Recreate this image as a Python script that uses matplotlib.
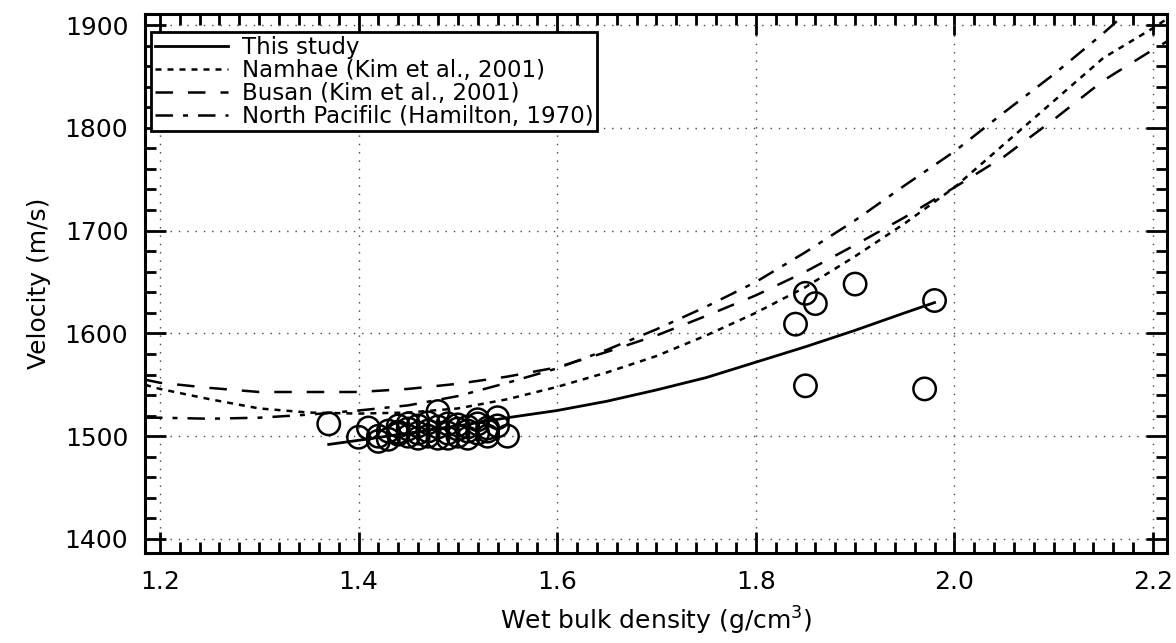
import matplotlib.pyplot as plt
from matplotlib.ticker import MultipleLocator

# regression curves (density g/cm3, velocity m/s)
this_x = [1.37, 1.40, 1.45, 1.50, 1.55, 1.60, 1.65, 1.70, 1.75, 1.80, 1.85, 1.90, 1.95, 1.98]
this_y = [1492, 1496, 1503, 1510, 1518, 1525, 1534, 1545, 1557, 1572, 1587, 1603, 1620, 1630]

namhae_x = [1.185, 1.20, 1.25, 1.30, 1.35, 1.40, 1.45, 1.50, 1.55, 1.60, 1.65, 1.70, 1.75, 1.80,
            1.85, 1.90, 1.95, 2.00, 2.05, 2.10, 2.15, 2.20, 2.214]
namhae_y = [1550, 1546, 1536, 1527, 1523, 1522, 1523, 1527, 1536, 1548, 1562, 1578, 1598, 1620,
            1645, 1675, 1707, 1742, 1784, 1826, 1868, 1897, 1906]

busan_x = [1.185, 1.20, 1.25, 1.30, 1.35, 1.40, 1.45, 1.50, 1.55, 1.60, 1.65, 1.70, 1.75, 1.80,
           1.85, 1.90, 1.95, 2.00, 2.05, 2.10, 2.15, 2.20, 2.214]
busan_y = [1555, 1552, 1547, 1543, 1543, 1543, 1546, 1551, 1558, 1567, 1582, 1598, 1617, 1637,
           1660, 1686, 1713, 1742, 1772, 1808, 1846, 1876, 1884]

pacific_x = [1.185, 1.20, 1.25, 1.30, 1.35, 1.40, 1.45, 1.50, 1.55, 1.60, 1.65, 1.70, 1.75, 1.80,
             1.85, 1.90, 1.95, 2.00, 2.05, 2.10, 2.15, 2.172]
pacific_y = [1518, 1518, 1517, 1518, 1521, 1525, 1530, 1539, 1552, 1566, 1584, 1604, 1626, 1650,
             1679, 1710, 1744, 1777, 1815, 1852, 1892, 1911]

# measured samples
dens = [1.37, 1.40, 1.41, 1.42, 1.42, 1.43, 1.43, 1.44, 1.44, 1.44, 1.45, 1.45, 1.45, 1.46, 1.46,
        1.46, 1.47, 1.47, 1.47, 1.48, 1.48, 1.48, 1.49, 1.49, 1.49, 1.50, 1.50, 1.50, 1.51, 1.51,
        1.51, 1.52, 1.52, 1.52, 1.53, 1.53, 1.53, 1.54, 1.54, 1.55,
        1.84, 1.85, 1.86, 1.90, 1.85, 1.97, 1.98]
vel = [1512, 1499, 1508, 1495, 1500, 1497, 1505, 1510, 1502, 1504, 1500, 1507, 1512, 1503, 1498,
       1510, 1505, 1500, 1513, 1524, 1509, 1498, 1503, 1512, 1498, 1507, 1500, 1511, 1505, 1498,
       1509, 1512, 1516, 1503, 1500, 1508, 1505, 1518, 1510, 1500,
       1609, 1639, 1629, 1648, 1549, 1546, 1632]

plt.rcParams['font.family'] = ['DejaVu Sans']
fig = plt.figure(figsize=(11.76, 6.43), dpi=100)
ax = fig.add_axes([0.1233, 0.14, 0.8690, 0.8382])

ax.plot(this_x, this_y, color='black', lw=2.0, label='This study')
ax.plot(namhae_x, namhae_y, color='black', lw=1.8, dashes=(2.4, 2.4), label='Namhae (Kim et al., 2001)')
ax.plot(busan_x, busan_y, color='black', lw=1.8, dashes=(7, 6), label='Busan (Kim et al., 2001)')
ax.plot(pacific_x, pacific_y, color='black', lw=1.8, dashes=(7, 4, 2, 4), label='North Pacifilc (Hamilton, 1970)')
ax.scatter(dens, vel, s=260, facecolors='none', edgecolors='black', linewidths=1.8, zorder=3)

ax.set_xlim(1.185, 2.214)
ax.set_ylim(1386.4, 1910.7)
ax.xaxis.set_major_locator(MultipleLocator(0.2))
ax.xaxis.set_minor_locator(MultipleLocator(0.02))
ax.yaxis.set_major_locator(MultipleLocator(100))
ax.yaxis.set_minor_locator(MultipleLocator(20))
ax.xaxis.set_major_formatter(lambda v, p: f'{v:.1f}')

ax.tick_params(which='both', direction='in', top=True, right=True, width=2, labelsize=18)
ax.tick_params(which='major', length=15, pad=12)
ax.tick_params(which='minor', length=8)
for s in ax.spines.values():
    s.set_linewidth(2.2)
ax.grid(True, which='major', color='#444444', lw=1.0, linestyle=(0, (1, 5)))

ax.set_xlabel('Wet bulk density (g/cm$^3$)', fontsize=18, labelpad=8)
ax.set_ylabel('Velocity (m/s)', fontsize=18, labelpad=10)

leg = ax.legend(loc='upper left', bbox_to_anchor=(0.006, 0.966), borderaxespad=0, fontsize=16.5,
                handlelength=3.2, labelspacing=0.0, handletextpad=0.6, borderpad=0.15,
                fancybox=False, framealpha=1, edgecolor='black')
leg.get_frame().set_linewidth(2)

fig.savefig('out.png', dpi=100)
